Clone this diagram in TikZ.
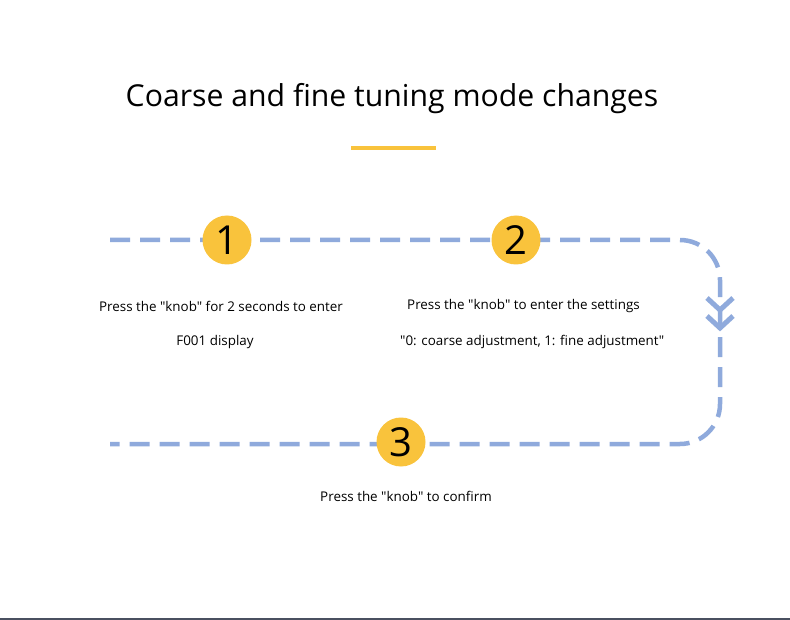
\documentclass[tikz,border=0pt]{standalone}
\usepackage{fontspec}
\setmainfont{Open Sans}[Ligatures=TeXOff]
\definecolor{pathblue}{HTML}{8FAADC}
\definecolor{stepyellow}{HTML}{F9C33C}
\definecolor{baseline}{HTML}{4A5060}

\newcommand{\toprow}{240}
\newcommand{\botrow}{444}
\newcommand{\leftend}{110}
\newcommand{\rightside}{720}

\begin{document}
\begin{tikzpicture}[x=1pt,y=-1pt,
  stepnum/.style={circle, fill=stepyellow, minimum size=49pt, inner sep=0pt, font=\fontsize{40}{40}\selectfont},
  desc/.style={font=\fontsize{13.4}{16}\selectfont, inner sep=0pt}]
\useasboundingbox (0,0) rectangle (790,620);
  \fill [white] (0,0) rectangle (790,620);

  \node (title) at (392,99) {\fontsize{30.2}{36}\selectfont Coarse and fine tuning mode changes};
  \draw [line width = 4pt, color = stepyellow] (351,148) -- (436,148);

  \coordinate (P1) at (\leftend, \toprow);
  \coordinate (C1) at (\rightside, \toprow);
  \coordinate (C2) at (\rightside, \botrow);
  \coordinate (P6) at (\leftend, \botrow);

  \draw [line width = 4.5pt, color = pathblue, dash pattern = on 20pt off 10pt, rounded corners = 40pt]
    (P1) -- (C1) -- (C2) -- (P6);

  % chevrons
  \foreach \y in {298,316}
    \draw [line width = 5pt, color = pathblue, miter limit=4]
      (\rightside-13, \y) -- (\rightside, \y+12) -- (\rightside+13, \y);

  \node [stepnum] (one) at (227,240) {1};
  \node [stepnum] (two) at (516,240) {2};
  \node [stepnum] (three) at (401,442) {3};

  \node [desc] (d1a) at (221,306) {Press the "knob" for 2 seconds to enter};
  \node [desc] (d1b) at (215,342) {F001 display};
  \node [desc, anchor=west] (d2a) at (407,306) {Press the "knob" to enter the settings};
  \node [desc, anchor=west] (d2b) at (400,342) {"0: coarse adjustment, 1: fine adjustment"};
  \node [desc] (d3) at (406,496) {Press the "knob" to confirm};

  \draw [line width = 2pt, color = baseline] (0,619) -- (790,619);
\end{tikzpicture}
\end{document}
